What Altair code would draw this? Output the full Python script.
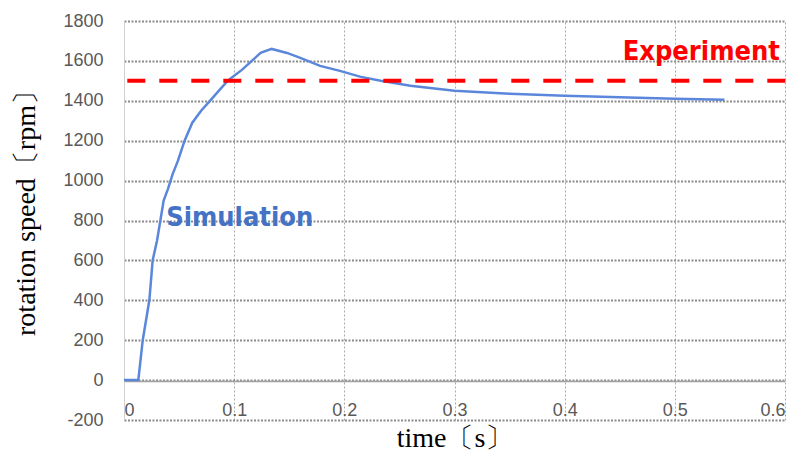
import altair as alt
import pandas as pd

# Simulation curve (time [s], rotation speed [rpm])
sim_time = [0, 0.013, 0.017, 0.02, 0.023, 0.026, 0.03, 0.033, 0.036, 0.04, 0.044, 0.049, 0.055,
            0.062, 0.07, 0.078, 0.086, 0.094, 0.1, 0.107, 0.116, 0.124, 0.134, 0.148, 0.16,
            0.178, 0.196, 0.215, 0.233, 0.26, 0.3, 0.35, 0.4, 0.45, 0.5, 0.545]
sim_rpm = [0, 0, 200, 300, 400, 600, 700, 800, 900, 960, 1030, 1100, 1200,
           1290, 1350, 1400, 1450, 1500, 1525, 1555, 1600, 1640, 1660, 1640, 1615,
           1575, 1550, 1520, 1500, 1475, 1450, 1435, 1425, 1418, 1410, 1405]

# Experiment level (dashed)
exp_start = [0.003]
exp_end = [0.615]
exp_rpm = [1500]

# Annotations
ann_label = ["Simulation", "Experiment"]
ann_time = [0.105, 0.524]
ann_rpm = [815, 1645]
ann_color = ["#4472C4", "#FF0000"]

x_ticks = [0, 0.1, 0.2, 0.3, 0.4, 0.5, 0.6]
y_ticks = [-200, 0, 200, 400, 600, 800, 1000, 1200, 1400, 1600, 1800]

sim_df = pd.DataFrame({"time": sim_time, "rpm": sim_rpm})
exp_df = pd.DataFrame({"time": exp_start, "time2": exp_end, "rpm": exp_rpm})
ann_df = pd.DataFrame({"label": ann_label, "time": ann_time, "rpm": ann_rpm, "color": ann_color})

x_scale = alt.Scale(domain=[0, 0.6], nice=False, zero=False)
y_scale = alt.Scale(domain=[-200, 1800], nice=False, zero=False)

label_font = "Liberation Sans"

y_axis = alt.Axis(
    values=y_ticks, grid=True, gridColor="#8c8c8c", gridDash=[2, 1.5], gridWidth=1.8,
    domain=True, domainColor="#d0d0d0", domainWidth=1, ticks=False,
    labelExpr="'' + datum.value",
    labelFont=label_font, labelFontSize=18, labelColor="#595959", labelPadding=21,
    title="rotation speed〔rpm〕", titleFont="Liberation Serif", titleFontSize=28,
    titleFontWeight="normal", titleColor="#000000",
    titleX=-98, titleY=185, titleAngle=-90, titleAlign="center", titleBaseline="middle",
)

x_grid_axis = alt.Axis(
    orient="top", values=x_ticks, grid=True, gridColor="#a8a8a8", gridDash=[2, 2],
    gridWidth=1, labels=False, ticks=False, domain=False, title=None,
)

x_axis = alt.Axis(
    orient="bottom", values=x_ticks, grid=False, offset=-39,
    labelExpr="'' + datum.value",
    domain=True, domainColor="#a0a0a0", domainWidth=1.5, ticks=False,
    labelFont=label_font, labelFontSize=18, labelColor="#595959", labelPadding=20,
    title="time〔s〕", titleFont="Liberation Serif", titleFontSize=28,
    titleFontWeight="normal", titleColor="#000000", titlePadding=5,
)

line = alt.Chart(sim_df).mark_line(color="#5B87DB", strokeWidth=2.5).encode(
    x=alt.X("time:Q", scale=x_scale, axis=x_grid_axis),
    y=alt.Y("rpm:Q", scale=y_scale, axis=y_axis),
)

rule = alt.Chart(exp_df).mark_rule(color="#FF0000", strokeWidth=4, strokeDash=[18, 14], clip=False).encode(
    x=alt.X("time:Q", scale=x_scale, axis=x_axis),
    x2="time2:Q",
    y=alt.Y("rpm:Q", scale=y_scale, axis=y_axis),
)

texts = alt.Chart(ann_df).mark_text(
    font="'DejaVu Sans Condensed', sans-serif",
    fontSize=27, fontWeight="bold", align="center", baseline="middle",
).encode(
    x=alt.X("time:Q", scale=x_scale, axis=None),
    y=alt.Y("rpm:Q", scale=y_scale, axis=y_axis),
    text="label:N",
    color=alt.Color("color:N", scale=None, legend=None),
)

chart = alt.layer(line, rule, texts).resolve_axis(x="independent").properties(
    width=661, height=399,
    padding={"left": 116, "top": 13, "right": 8, "bottom": 34},
    autosize=alt.AutoSizeParams(type="none"),
    background="white",
).configure_view(stroke=None)

chart.save("out.html", embed_options={"renderer": "svg", "actions": False})
